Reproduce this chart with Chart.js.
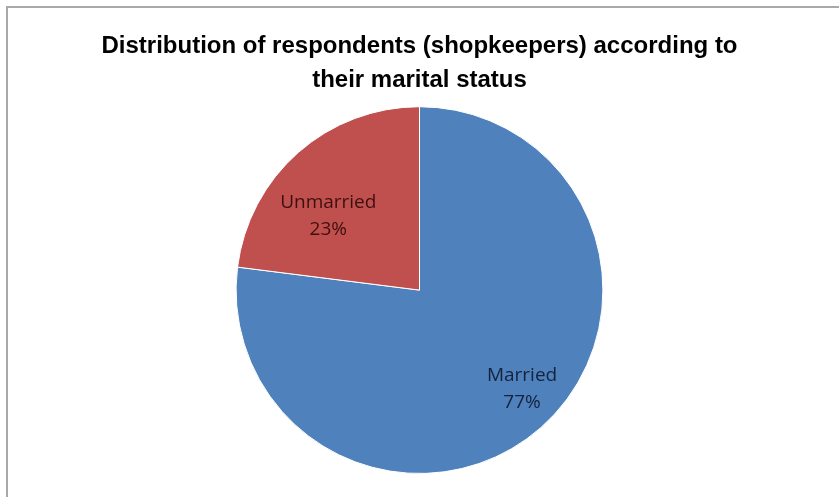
<!DOCTYPE html>
<html>
<head>
<meta charset="utf-8">
<script src="https://cdn.jsdelivr.net/npm/chart.js@4.4.0/dist/chart.umd.min.js"></script>
<style>
  html, body { margin: 0; padding: 0; background: #ffffff; }
  #wrap { position: relative; width: 839px; height: 497px; overflow: hidden; }
  #frame { position: absolute; left: 6px; top: 6px; width: 900px; height: 600px; border: 2px solid #a9a9a9; box-sizing: border-box; }
  #c { position: absolute; left: 0; top: 0; }
</style>
</head>
<body>
<div id="wrap">
  <div id="frame"></div>
  <canvas id="c" width="839" height="497"></canvas>
</div>
<script>
const categories = ["Married", "Unmarried"];
const percentages = [77, 23];
const sliceColors = ["#4f81bd", "#c0504d"];
const titleLines = ["Distribution of respondents (shopkeepers) according to", "their marital status"];

const labelPlugin = {
  id: 'sliceLabels',
  afterDatasetsDraw(chart, args, opts) {
    const ctx = chart.ctx;
    const meta = chart.getDatasetMeta(0);
    meta.data.forEach((arc, i) => {
      const p = arc.getProps(['x', 'y', 'startAngle', 'endAngle', 'outerRadius'], true);
      const mid = (p.startAngle + p.endAngle) / 2 + opts.angleShift[i] * Math.PI / 180;
      const r = p.outerRadius * opts.radiusFrac[i];
      const x = p.x + Math.cos(mid) * r;
      const y = p.y + Math.sin(mid) * r;
      ctx.save();
      ctx.font = opts.font;
      ctx.fillStyle = opts.colors[i];
      ctx.textAlign = 'center';
      ctx.textBaseline = 'middle';
      ctx.fillText(categories[i], x, y - opts.lineGap / 2);
      ctx.fillText(percentages[i] + '%', x, y + opts.lineGap / 2);
      ctx.restore();
    });
  }
};

new Chart(document.getElementById('c'), {
  type: 'pie',
  data: {
    labels: categories,
    datasets: [{
      data: percentages,
      backgroundColor: sliceColors,
      borderColor: '#ffffff',
      borderWidth: 1
    }]
  },
  options: {
    responsive: false,
    animation: false,
    layout: { padding: { top: 0, bottom: 23, left: 0, right: 0 } },
    plugins: {
      legend: { display: false },
      tooltip: { enabled: false },
      title: {
        display: true,
        text: titleLines,
        color: '#000000',
        font: { family: 'Liberation Sans', size: 24, weight: 'bold', lineHeight: 1.4 },
        padding: { top: 30, bottom: 9 }
      },
      sliceLabels: {
        font: '19px "Open Sans"',
        colors: ['#14233d', '#3d1010'],
        radiusFrac: [0.776, 0.64],
        angleShift: [-4.7, -9.6],
        lineGap: 27
      }
    }
  },
  plugins: [labelPlugin]
});
</script>
</body>
</html>
